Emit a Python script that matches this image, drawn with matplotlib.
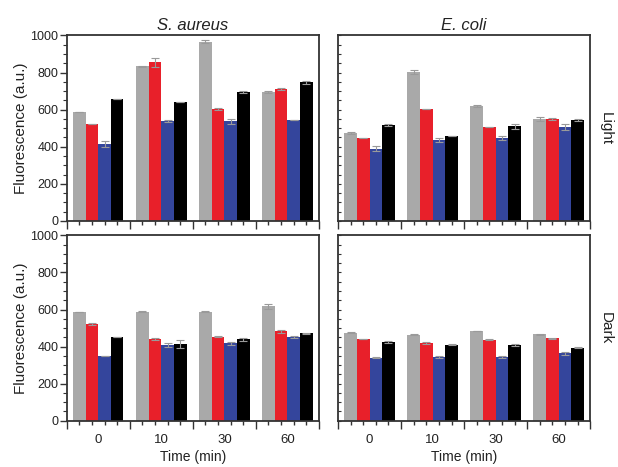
import matplotlib
matplotlib.use('Agg')
import matplotlib.pyplot as plt
import matplotlib.transforms as mtransforms
import numpy as np

plt.rcParams['font.family'] = ['Liberation Sans', 'DejaVu Sans']

times = ['0', '10', '30', '60']
species = ['S. aureus', 'E. coli']
conditions = ['Light', 'Dark']
colors = ['#a9a9a9', '#e8202a', '#34459c', '#000000']

# values[condition][species] -> 4 series (gray, red, blue, black) x 4 times
sa_light = [[588, 833, 967, 696],
            [520, 856, 605, 713],
            [416, 540, 537, 546],
            [657, 639, 697, 747]]
sa_light_err = [[0, 5, 10, 5],
                [0, 25, 5, 5],
                [15, 5, 15, 0],
                [0, 0, 5, 10]]
ec_light = [[474, 802, 618, 551],
            [447, 602, 504, 550],
            [390, 437, 446, 505],
            [516, 457, 510, 542]]
ec_light_err = [[5, 10, 5, 12],
                [0, 0, 0, 5],
                [15, 10, 10, 15],
                [5, 0, 12, 5]]
sa_dark = [[588, 588, 588, 617],
           [521, 439, 453, 482],
           [352, 410, 417, 452],
           [450, 414, 440, 473]]
sa_dark_err = [[0, 3, 3, 12],
               [5, 5, 3, 10],
               [0, 10, 10, 3],
               [0, 20, 8, 3]]
ec_dark = [[476, 465, 484, 467],
           [440, 418, 436, 445],
           [341, 344, 346, 363],
           [427, 409, 409, 393]]
ec_dark_err = [[5, 5, 0, 3],
               [0, 5, 3, 3],
               [3, 8, 5, 6],
               [5, 3, 5, 3]]

panels = [[(sa_light, sa_light_err), (ec_light, ec_light_err)],
          [(sa_dark, sa_dark_err), (ec_dark, ec_dark_err)]]

fig = plt.figure(figsize=(6.18, 4.67), dpi=100)
lefts = [0.108, 0.547]
bottoms = [0.527, 0.099]
w, h = 0.408, 0.397

bw = 0.2
centers = np.arange(len(times)) + 0.5
offsets = (np.arange(4) - 1.5) * bw
spine_col = '#333333'
txt_col = '#222222'

for r in range(2):
    for c in range(2):
        ax = fig.add_axes([lefts[c], bottoms[r], w, h])
        vals, errs = panels[r][c]
        for k in range(4):
            ax.bar(centers + offsets[k], vals[k], width=bw, color=colors[k],
                   edgecolor='none', yerr=errs[k], capsize=3,
                   error_kw=dict(ecolor='#9a9a9a', elinewidth=0.8, capthick=0.8))
        ax.set_xlim(0, 4)
        ax.set_ylim(0, 1000)
        for s in ax.spines.values():
            s.set_color(spine_col)
            s.set_linewidth(1.3)
        ax.set_xticks(np.arange(5))
        ax.set_xticklabels([])
        ax.set_xticks((centers[:, None] + offsets[None, :]).ravel(), minor=True)
        ax.tick_params(axis='x', which='major', direction='out', length=6, width=1, color=spine_col)
        ax.tick_params(axis='x', which='minor', direction='out', length=3, width=1, color=spine_col)
        ax.set_yticks(np.arange(0, 1001, 200))
        ax.set_yticks(np.arange(0, 1001, 50), minor=True)
        if c == 0:
            ax.tick_params(axis='y', which='major', direction='out', length=5, width=1,
                           color=spine_col, labelsize=9, labelcolor=txt_col, pad=1)
            ax.tick_params(axis='y', which='minor', direction='out', length=3, width=0.8, color=spine_col)
            ax.set_ylabel('Fluorescence (a.u.)', fontsize=11, color=txt_col, labelpad=2)
        else:
            ax.set_yticklabels([])
            ax.tick_params(axis='y', which='both', direction='in', length=2.5, width=0.8, color=spine_col)
        if r == 0:
            ax.set_title(species[c], fontsize=12, style='italic', color=txt_col, pad=4)
        else:
            trans = mtransforms.blended_transform_factory(ax.transData, ax.transAxes)
            for x, t in zip(centers, times):
                ax.text(x, -0.07, t, transform=trans, ha='center', va='top',
                        fontsize=9.5, color=txt_col)
            ax.text(0.5, -0.155, 'Time (min)', transform=ax.transAxes, ha='center',
                    va='top', fontsize=10, color=txt_col)
        if c == 1:
            ax.text(1.06, 0.5, conditions[r], transform=ax.transAxes, rotation=270,
                    ha='center', va='center', fontsize=11, color=txt_col)

fig.savefig('out.png', dpi=100)
plt.close(fig)
